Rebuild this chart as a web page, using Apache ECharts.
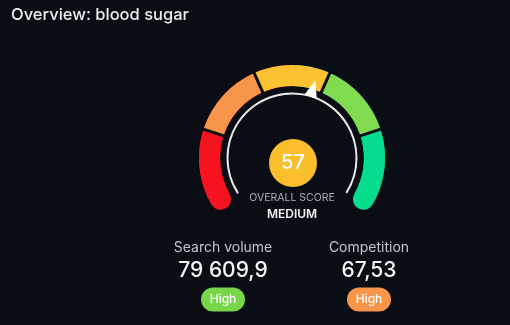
<!DOCTYPE html>
<html>
<head>
<meta charset="utf-8">
<script src="https://cdn.jsdelivr.net/npm/echarts@6/dist/echarts.min.js"></script>
<style>
html,body{margin:0;padding:0;background:#0a0d14;}
#chart{width:510px;height:325px;}
</style>
</head>
<body>
<div id="chart"></div>
<script>
// ---- data ----
const chartTitle = 'Overview: blood sugar';
const scoreMin = 0;
const scoreMax = 100;
const score = 57;
const scoreCaption = 'OVERALL SCORE';
const scoreLevel = 'MEDIUM';
const thresholds = [20, 40, 60, 80];
const bandColors = ['#f5131f', '#f7964a', '#fcc232', '#80db50', '#03dd8d'];
const statLabels = ['Search volume', 'Competition'];
const statValues = ['79 609,9', '67,53'];
const statLevels = ['High', 'High'];
const statLevelColors = ['#78d64a', '#f7964a'];

// ---- layout / style ----
const BG = '#0a0d14';
const FONT = 'Inter, "Noto Sans", sans-serif';
const CX = 292, CY = 158;
const START = 210, END = -30;
const BAND_R = 93, BAND_W = 21;
const angleOf = v => START - (v - scoreMin) / (scoreMax - scoreMin) * (START - END);

const frac = v => (v - scoreMin) / (scoreMax - scoreMin);
const bandStops = bandColors.map((c, i) => [i < thresholds.length ? frac(thresholds[i]) : 1, c]);

const base = {
  type: 'gauge', center: [CX, CY], min: scoreMin, max: scoreMax,
  startAngle: START, endAngle: END,
  axisTick: { show: false }, axisLabel: { show: false }, splitLine: { show: false },
  pointer: { show: false }, anchor: { show: false }, title: { show: false }, detail: { show: false },
  progress: { show: false }
};

const series = [
  Object.assign({}, base, {
    z: 1, radius: BAND_R,
    axisLine: { roundCap: true, lineStyle: { width: BAND_W, color: [[0.5, bandColors[0]], [1, bandColors[bandColors.length - 1]]] } },
    data: []
  }),
  Object.assign({}, base, {
    z: 2, radius: BAND_R,
    axisLine: { roundCap: false, lineStyle: { width: BAND_W, color: bandStops } },
    data: []
  }),
  Object.assign({}, base, {
    z: 3, radius: BAND_R,
    startAngle: angleOf(thresholds[0]), endAngle: angleOf(thresholds[thresholds.length - 1]),
    splitNumber: thresholds.length - 1,
    axisLine: { show: false, lineStyle: { width: BAND_W } },
    splitLine: { show: true, distance: -BAND_W - 2, length: BAND_W + 4, lineStyle: { color: BG, width: 3 } },
    data: []
  }),
  Object.assign({}, base, {
    z: 4, radius: 65.5, startAngle: 212.5, endAngle: -32,
    axisLine: { roundCap: true, lineStyle: { width: 2, color: [[1, '#e9e9ea']] } },
    data: []
  }),
  Object.assign({}, base, {
    z: 5, radius: 64,
    axisLine: { show: false, lineStyle: { width: 0 } },
    pointer: { show: true, icon: 'triangle', length: 17, width: 13, offsetCenter: [0, -64], itemStyle: { color: '#ffffff' } },
    detail: {
      show: true, offsetCenter: [1, 5], formatter: '{value}',
      color: '#ffffff', fontSize: 20, fontWeight: 500, fontFamily: FONT
    },
    data: [{ value: score }]
  })
];

const graphics = [
  { type: 'circle', z: 0, shape: { cx: CX + 1, cy: CY + 5, r: 24 }, style: { fill: '#fbbf2e' } },
  { type: 'text', x: 11, y: 15, style: { text: chartTitle, fill: '#ececed', font: '500 16.5px ' + FONT, verticalAlign: 'middle' } },
  { type: 'text', x: CX, y: 198, style: { text: scoreCaption, fill: '#a9acb2', font: '10.5px ' + FONT, align: 'center', verticalAlign: 'middle' } },
  { type: 'text', x: CX, y: 214, style: { text: scoreLevel, fill: '#f2f2f3', font: '600 12px ' + FONT, align: 'center', verticalAlign: 'middle' } }
];
const statX = [223, 369];
statLabels.forEach((lab, i) => {
  const x = statX[i];
  graphics.push({ type: 'text', x, y: 248, style: { text: lab, fill: '#c3c6cb', font: '14px ' + FONT, align: 'center', verticalAlign: 'middle' } });
  graphics.push({ type: 'text', x, y: 271, style: { text: statValues[i], fill: '#f4f4f5', font: '500 21px ' + FONT, align: 'center', verticalAlign: 'middle' } });
  graphics.push({ type: 'rect', shape: { x: x - 22, y: 287.5, width: 44, height: 24, r: 12 }, style: { fill: statLevelColors[i] } });
  graphics.push({ type: 'text', x, y: 299.5, style: { text: statLevels[i], fill: '#ffffff', font: '500 12px ' + FONT, align: 'center', verticalAlign: 'middle' } });
});

const chart = echarts.init(document.getElementById('chart'));
chart.setOption({
  backgroundColor: BG,
  animation: false,
  series,
  graphic: graphics
});
</script>
</body>
</html>
